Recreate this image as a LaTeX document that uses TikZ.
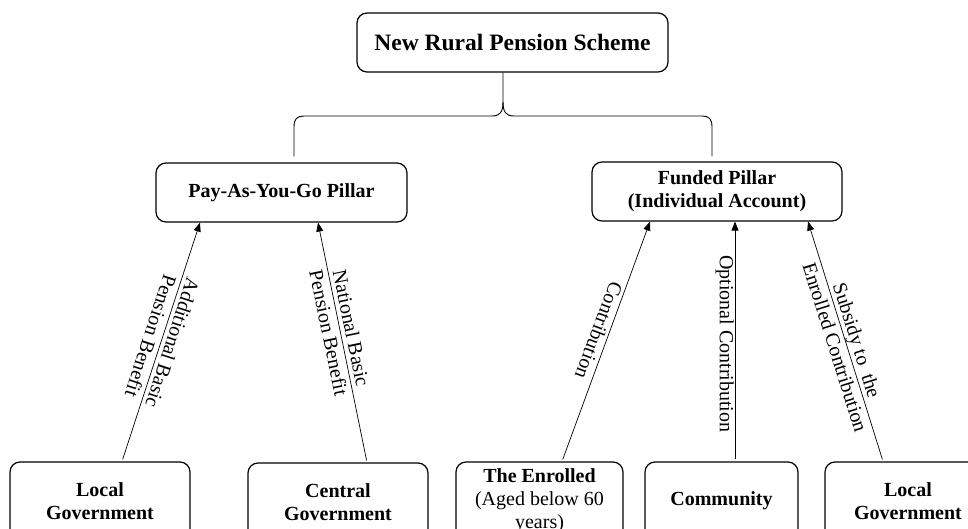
\documentclass[tikz,border=0pt]{standalone}
\usepackage{fontspec}
\setmainfont{Liberation Serif}
\usetikzlibrary{arrows.meta,calc}
\begin{document}
\begin{tikzpicture}[x=1pt,y=-1pt,
  box/.style={draw, line width=1.2pt, rounded corners=10pt, align=center, inner sep=2pt,
              font=\fontsize{20}{23}\selectfont\bfseries},
  flow/.style={-{Triangle[length=9pt,width=7pt]}, line width=0.7pt, shorten <=2pt},
  lbl/.style={font=\fontsize{20}{23}\selectfont, align=center, inner sep=1pt},
  brace/.style={line width=0.9pt}]
\clip (0,0) rectangle (968,529);
% top level
\node[box, minimum width=311pt, minimum height=59pt,
      font=\fontsize{23.5}{26}\selectfont\bfseries] (top) at (512.5,42.5) {New Rural Pension Scheme};
% pillars
\node[box, minimum width=251pt, minimum height=59pt] (payg) at (281.5,192.5) {Pay-As-You-Go Pillar};
\node[box, minimum width=250pt, minimum height=59pt] (funded) at (717,191.5) {Funded Pillar\\(Individual Account)};
% sources
\node[box, minimum width=180pt, minimum height=78pt] (lg1) at (100,501) {Local\\Government};
\node[box, minimum width=180pt, minimum height=78pt] (cg) at (338,502) {Central\\Government};
\node[box, minimum width=167pt, minimum height=78pt] (enr) at (539.5,501) {The Enrolled\\\mdseries(Aged below 60\\\mdseries years)};
\node[box, minimum width=153pt, minimum height=78pt] (com) at (721.5,501) {Community};
\node[box, minimum width=166pt, minimum height=78pt] (lg2) at (908,501) {Local\\Government};
% brace
\coordinate (bt) at ([xshift=-9.5pt]top.south);
\coordinate (bl) at ([xshift=12.5pt,yshift=6pt]payg.north);
\coordinate (br) at ([xshift=-5pt,yshift=5pt]funded.north);
\draw[brace] (bt) -- (503,102) .. controls (503,112) and (500,116) .. (492,116) -- (304,116)
  .. controls (297,116) and (294,119) .. (294,127) -- (bl);
\draw[brace] (503,102) .. controls (503,112) and (506,116) .. (514,116) -- (702,116)
  .. controls (709,116) and (712,119) .. (712,127) -- (br);
% flows
\draw[flow] ([xshift=22pt]lg1.north) -- node[lbl, pos=0.51, rotate=-108.1] {Additional Basic\\Pension Benefit} ([xshift=-81.5pt]payg.south);
\draw[flow] ([xshift=29pt]cg.north) -- node[lbl, pos=0.55, rotate=-78.3] {National Basic\\Pension Benefit} ([xshift=36.5pt]payg.south);
\draw[flow] ([xshift=22.5pt]enr.north) -- node[lbl, pos=0.53, rotate=-110.6, anchor=north, inner sep=3pt] {Contribution} ([xshift=-67pt]funded.south);
\draw[flow] ([xshift=13.5pt]com.north) -- node[lbl, pos=0.49, rotate=-90, anchor=north] {Optional Contribution} ([xshift=18pt]funded.south);
\draw[flow] ([xshift=-25pt]lg2.north) -- node[lbl, pos=0.49, rotate=-72.5] {Subsidy to\ \ the\\Enrolled Contribution} ([xshift=91pt]funded.south);
\end{tikzpicture}
\end{document}
